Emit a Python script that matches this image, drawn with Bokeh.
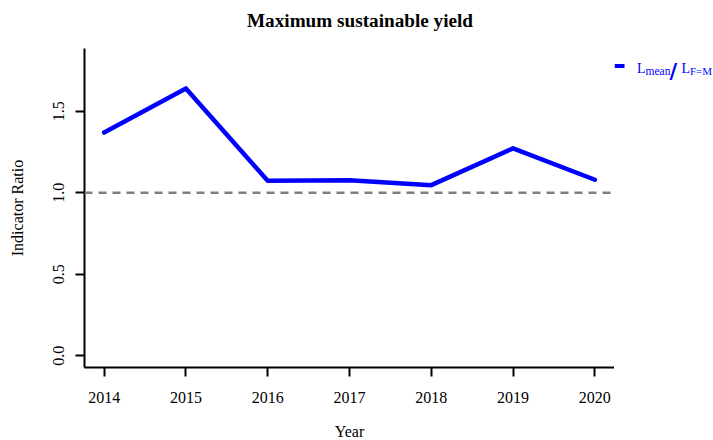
from bokeh.plotting import figure
from bokeh.layouts import row, column
from bokeh.models import Range1d, Span, Label, PrintfTickFormatter
from bokeh.embed import file_html
from bokeh.resources import INLINE

# ---- data ----
years = [2014, 2015, 2016, 2017, 2018, 2019, 2020]
ratio = [1.370, 1.641, 1.074, 1.077, 1.047, 1.273, 1.080]
y_ticks = [0.0, 0.5, 1.0, 1.5]
ref_level = 1.0

SERIF = "Liberation Serif"
BLUE = "#0000FF"


def blank(w, h, x0, x1, y0, y1):
    """A figure without axes whose data coordinates are page pixels."""
    f = figure(width=w, height=h, output_backend="svg", toolbar_location=None,
               x_range=Range1d(x0, x1), y_range=Range1d(y1, y0),
               min_border=0, min_border_left=0, min_border_right=0,
               min_border_top=0, min_border_bottom=0)
    f.title = None
    f.axis.visible = False
    f.grid.visible = False
    f.outline_line_color = None
    f.background_fill_color = "white"
    f.border_fill_color = "white"
    return f


def lab(fig, txt, x, y, size, bold=False, color="black", align="left", font=SERIF):
    fig.add_layout(Label(text=txt, x=x, y=y,
                         text_font=font, text_font_size=size, text_color=color,
                         text_font_style="bold" if bold else "normal",
                         text_baseline="alphabetic", text_align=align))


# ---- header with title ----
header = blank(713, 48, 0, 713, 0, 48)
lab(header, "Maximum sustainable yield", 246.5, 19.5, "19.2px", bold=True)

# ---- main plot ----
p = figure(width=614, height=362, output_backend="svg", toolbar_location=None,
           x_range=Range1d(2013.76, 2020.24), y_range=Range1d(-0.0726, 1.886),
           min_border_left=84, min_border_right=0, min_border_top=0, min_border_bottom=43)
p.title = None
p.outline_line_color = None
p.grid.visible = False
p.background_fill_color = "white"
p.border_fill_color = "white"

for ax in (p.xaxis[0], p.yaxis[0]):
    ax.axis_line_width = 2
    ax.axis_line_color = "black"
    ax.major_tick_line_width = 2
    ax.major_tick_line_color = "black"
    ax.major_tick_out = 9
    ax.major_tick_in = 0
    ax.minor_tick_line_color = None
    ax.major_label_text_font = SERIF
    ax.major_label_text_font_size = "16px"
    ax.major_label_text_color = "black"
    ax.axis_label_text_font = SERIF
    ax.axis_label_text_font_size = "16px"
    ax.axis_label_text_font_style = "normal"
    ax.axis_label_text_color = "black"

p.xaxis.ticker = years
p.xaxis.major_label_standoff = 15

p.yaxis.ticker = y_ticks
p.yaxis.formatter = PrintfTickFormatter(format="%.1f")
p.yaxis.major_label_orientation = "vertical"
p.yaxis.major_label_standoff = 11
p.yaxis.axis_label = "Indicator Ratio"
p.yaxis.axis_label_standoff = 25

p.add_layout(Span(location=ref_level, dimension="width", line_color="#7F7F7F",
                  line_width=2.5, line_dash="8 6"))

p.line(years, ratio, line_color=BLUE, line_width=4.5, line_join="round", line_cap="round")

# ---- legend panel (right of the plot) ----
q = blank(99, 362, 614, 713, 48, 410)
q.segment(x0=[614], y0=[68], x1=[624], y1=[68], line_color=BLUE, line_width=4)
lab(q, "L", 636.5, 71, "14px", color=BLUE)
lab(q, "mean", 645, 73.5, "11.5px", color=BLUE)
lab(q, "/", 669, 73.5, "21px", bold=True, color=BLUE, font="DejaVu Serif")
lab(q, "L", 681, 71, "14px", color=BLUE)
lab(q, "F=M", 689.5, 73.5, "11px", color=BLUE)

# ---- footer with x-axis title ----
footer = blank(713, 30, 0, 713, 410, 440)
lab(footer, "Year", 349, 430.5, "16px", align="center")

layout = column(header, row(p, q, spacing=0), footer, spacing=0)
open("out.html", "w").write(file_html(layout, INLINE))
